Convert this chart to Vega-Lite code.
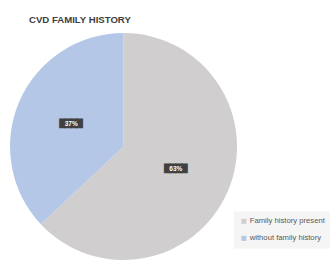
{
  "$schema": "https://vega.github.io/schema/vega-lite/v6.json",
  "width": 247,
  "height": 233,
  "autosize": "none",
  "padding": {"left": 0, "top": 30, "right": 83, "bottom": 14},
  "background": "white",
  "title": {
    "text": "CVD FAMILY HISTORY",
    "anchor": "start",
    "frame": "group",
    "dx": 29,
    "offset": -3,
    "baseline": "alphabetic",
    "font": "Liberation Sans",
    "fontSize": 9.6,
    "fontWeight": "bold",
    "color": "#404040"
  },
  "data": {
    "values": [
      {"category": "Family history present", "value": 63, "label": "63%", "box": "████"},
      {"category": "without family history", "value": 37, "label": "37%", "box": "████"}
    ]
  },
  "encoding": {
    "theta": {"field": "value", "type": "quantitative", "stack": true},
    "order": {"field": "value", "type": "quantitative", "sort": "descending"},
    "detail": {"field": "category", "type": "nominal"}
  },
  "layer": [
    {
      "mark": {"type": "arc", "outerRadius": 113.5},
      "encoding": {
        "color": {
          "field": "category",
          "type": "nominal",
          "scale": {
            "domain": ["Family history present", "without family history"],
            "range": ["#d0cece", "#b4c7e7"]
          },
          "legend": {
            "title": null,
            "orient": "none",
            "legendX": 234,
            "legendY": 181.5,
            "fillColor": "#f5f5f5",
            "padding": 6,
            "symbolType": "square",
            "symbolSize": 25,
            "symbolStrokeWidth": 0,
            "labelFont": "Liberation Sans",
            "labelFontSize": 7.7,
            "labelColor": "#595959",
            "labelOffset": 2,
            "rowPadding": 8
          }
        }
      }
    },
    {
      "mark": {
        "type": "text",
        "radius": 57,
        "font": "DejaVu Sans",
        "fontSize": 7.4,
        "baseline": "middle",
        "stroke": "#404040",
        "strokeWidth": 1
      },
      "encoding": {
        "text": {"field": "box"},
        "color": {"value": "#404040"}
      }
    },
    {
      "mark": {
        "type": "text",
        "radius": 57,
        "font": "Liberation Sans",
        "fontSize": 6.5,
        "fontWeight": "bold",
        "baseline": "middle"
      },
      "encoding": {
        "text": {"field": "label"},
        "color": {"value": "#ffffff"}
      }
    }
  ]
}
